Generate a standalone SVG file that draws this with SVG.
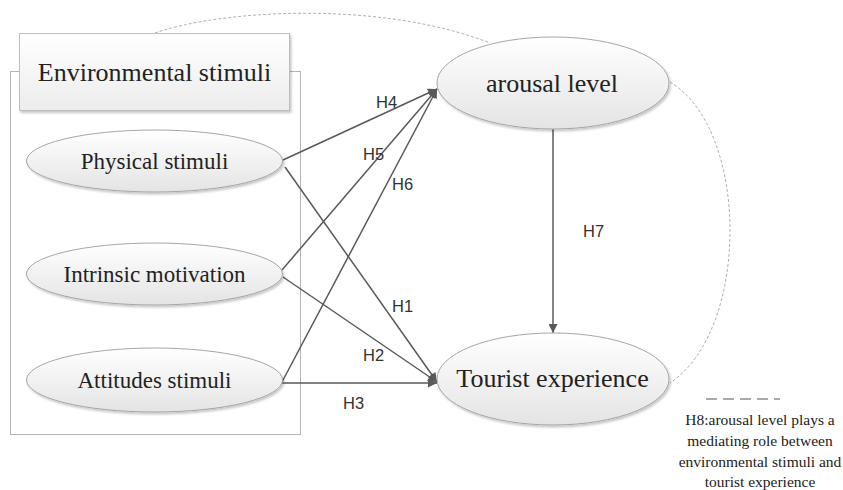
<svg xmlns="http://www.w3.org/2000/svg" width="843" height="490" viewBox="0 0 843 490">
<style>
.serif{font-family:"Liberation Serif","Times New Roman",serif;fill:#222;text-anchor:middle}
.lbl{font-family:"Liberation Sans",Arial,sans-serif;font-size:16.5px;fill:#333}
.node{fill:url(#g);stroke:#a6a6a6;stroke-width:1;filter:url(#sh)}
.conn{stroke:#595959;stroke-width:1.5;fill:none;marker-end:url(#ah)}
.dash{stroke:#b0b0b0;stroke-width:1;fill:none;stroke-dasharray:3,2}
</style>
<defs>
<linearGradient id="g" x1="0" y1="0" x2="0" y2="1">
<stop offset="0" stop-color="#ffffff"/>
<stop offset="1" stop-color="#e4e4e4"/>
</linearGradient>
<linearGradient id="gb" x1="0" y1="0" x2="0" y2="1">
<stop offset="0" stop-color="#ffffff"/>
<stop offset="1" stop-color="#ececec"/>
</linearGradient>
<filter id="sh" x="-10%" y="-10%" width="125%" height="135%">
<feDropShadow dx="1.5" dy="2" stdDeviation="1.2" flood-color="#000" flood-opacity="0.22"/>
</filter>
<marker id="ah" viewBox="0 0 10 10" refX="10" refY="5" markerUnits="userSpaceOnUse" markerWidth="11" markerHeight="9" orient="auto">
<path d="M0,0 L10,5 L0,10 z" fill="#595959"/>
</marker>
</defs>
<rect width="843" height="490" fill="#fff"/>

<g id="container">
<rect x="10.5" y="71.5" width="290" height="363" fill="none" stroke="#b4b4b4" stroke-width="1"/>
</g>

<g id="connectors">
<path class="dash" d="M155,33 C220,10 380,0 490,43"/>
<path class="dash" d="M670,82 C750,130 750,330 670,383"/>
<path class="conn" d="M283,160 L437,89"/>
<path class="conn" d="M282,270 L437,89"/>
<path class="conn" d="M282,382 L437,89"/>
<path class="conn" d="M285,167 L437,382"/>
<path class="conn" d="M283,277 L437,382"/>
<path class="conn" d="M282,383 L437,383"/>
<path class="conn" d="M553,129 L553,333"/>
</g>

<g id="labels">
<text class="lbl" x="376" y="108">H4</text>
<text class="lbl" x="363" y="160">H5</text>
<text class="lbl" x="392" y="190">H6</text>
<text class="lbl" x="583" y="237">H7</text>
<text class="lbl" x="392" y="312">H1</text>
<text class="lbl" x="363" y="361">H2</text>
<text class="lbl" x="343" y="409">H3</text>
</g>

<g id="env-title">
<rect x="19.5" y="33.5" width="270" height="77" fill="url(#gb)" stroke="#bdbdbd" stroke-width="1" filter="url(#sh)"/>
<text class="serif" x="154.5" y="81" font-size="26">Environmental stimuli</text>
</g>

<g id="physical">
<ellipse class="node" cx="154.5" cy="161" rx="128" ry="31"/>
<text class="serif" x="154.5" y="169" font-size="23">Physical stimuli</text>
</g>

<g id="intrinsic">
<ellipse class="node" cx="154.5" cy="274" rx="128" ry="31"/>
<text class="serif" x="154.5" y="282" font-size="23">Intrinsic motivation</text>
</g>

<g id="attitudes">
<ellipse class="node" cx="154.5" cy="380" rx="128" ry="32"/>
<text class="serif" x="154.5" y="388" font-size="23">Attitudes stimuli</text>
</g>

<g id="arousal">
<ellipse class="node" cx="553" cy="83" rx="116" ry="46"/>
<text class="serif" x="552" y="92" font-size="26">arousal level</text>
</g>

<g id="tourist">
<ellipse class="node" cx="553" cy="379" rx="116" ry="46"/>
<text class="serif" x="552.5" y="387" font-size="26">Tourist experience</text>
</g>

<g id="legend">
<line x1="706" y1="399" x2="780" y2="399" stroke="#555" stroke-width="1" stroke-dasharray="11,6"/>
<text class="serif" x="760" y="425" font-size="15.5">H8:arousal level plays a</text>
<text class="serif" x="760" y="446" font-size="15.5">mediating role between</text>
<text class="serif" x="760" y="467" font-size="15.5">environmental stimuli and</text>
<text class="serif" x="760" y="487" font-size="15.5">tourist experience</text>
</g>
</svg>
